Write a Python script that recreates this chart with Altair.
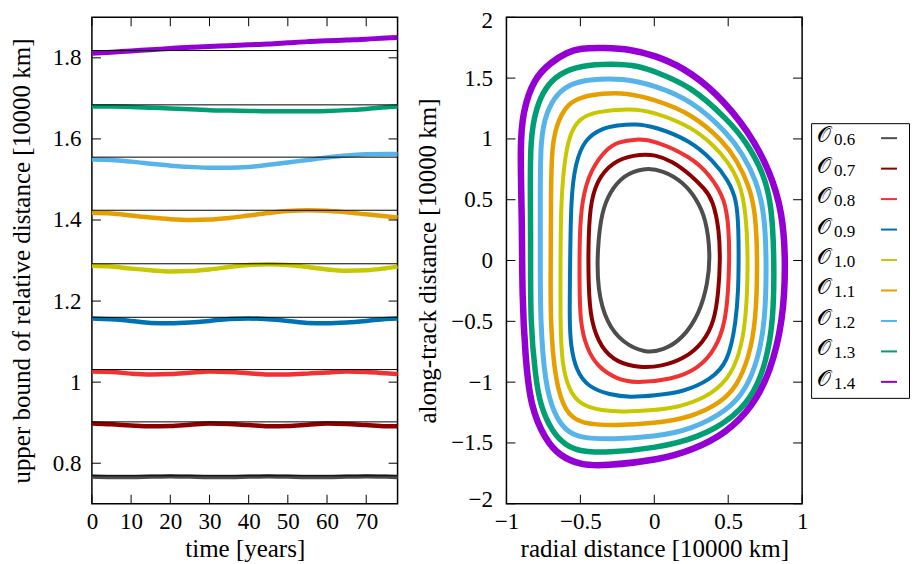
import altair as alt
import pandas as pd

# ---------------- data ----------------
series = ["0.6", "0.7", "0.8", "0.9", "1.0", "1.1", "1.2", "1.3", "1.4"]
colors = ["#4d4d4d", "#8b0000", "#f03232", "#0072b2", "#c8c800",
          "#e69f00", "#56b4e9", "#009e73", "#9400d3"]

time_years = [0, 5, 10, 15, 20, 25, 30, 35, 40, 45, 50, 55, 60, 65, 70, 75, 78]
bound_06 = [0.767, 0.766, 0.766, 0.767, 0.768, 0.767, 0.766, 0.766, 0.767,
            0.768, 0.767, 0.766, 0.766, 0.767, 0.768, 0.767, 0.766]
bound_07 = [0.898, 0.896, 0.893, 0.891, 0.892, 0.895, 0.898, 0.897, 0.894,
            0.891, 0.892, 0.895, 0.898, 0.897, 0.894, 0.891, 0.891]
bound_08 = [1.026, 1.025, 1.021, 1.019, 1.020, 1.023, 1.026, 1.025, 1.022,
            1.019, 1.019, 1.021, 1.024, 1.026, 1.025, 1.022, 1.020]
bound_09 = [1.157, 1.155, 1.151, 1.146, 1.145, 1.147, 1.151, 1.156, 1.157,
            1.155, 1.151, 1.146, 1.145, 1.147, 1.151, 1.156, 1.157]
bound_10 = [1.287, 1.285, 1.280, 1.276, 1.273, 1.274, 1.278, 1.284, 1.289,
            1.291, 1.289, 1.284, 1.278, 1.275, 1.276, 1.281, 1.285]
bound_11 = [1.418, 1.416, 1.411, 1.406, 1.402, 1.400, 1.401, 1.405, 1.411,
            1.417, 1.422, 1.424, 1.423, 1.419, 1.414, 1.409, 1.406]
bound_12 = [1.549, 1.548, 1.544, 1.539, 1.534, 1.531, 1.529, 1.529, 1.531,
            1.536, 1.542, 1.548, 1.554, 1.559, 1.562, 1.563, 1.563]
bound_13 = [1.680, 1.680, 1.679, 1.677, 1.675, 1.673, 1.671, 1.670, 1.669,
            1.668, 1.668, 1.668, 1.669, 1.671, 1.674, 1.678, 1.680]
bound_14 = [1.811, 1.814, 1.817, 1.820, 1.823, 1.826, 1.828, 1.830, 1.832,
            1.834, 1.837, 1.840, 1.842, 1.844, 1.846, 1.849, 1.850]
ref_lines = [0.769, 0.902, 1.031, 1.160, 1.292, 1.424, 1.555, 1.684, 1.818]

# closed orbits (radial, along-track), clockwise from the top
rad_06 = [-0.075, 0.06, 0.194, 0.284, 0.35, 0.38, 0.362, 0.306, 0.194, 0.06,
          -0.064, -0.21, -0.322, -0.385, -0.385, -0.356, -0.30, -0.21]
alg_06 = [0.763, 0.742, 0.646, 0.51, 0.345, 0.05, -0.189, -0.435, -0.64, -0.74,
          -0.76, -0.68, -0.517, -0.24, 0.1, 0.40, 0.564, 0.70]
rad_07 = [-0.086, 0.0, 0.12, 0.25, 0.34, 0.396, 0.44, 0.446, 0.435, 0.407, 0.33,
          0.2, 0.05, -0.098, -0.25, -0.36, -0.43, -0.446, -0.446, -0.43, -0.37, -0.25]
alg_07 = [0.875, 0.87, 0.82, 0.70, 0.59, 0.5, 0.25, 0.0, -0.25, -0.5, -0.68,
          -0.81, -0.87, -0.882, -0.84, -0.72, -0.5, -0.2, 0.2, 0.5, 0.70, 0.837]
rad_08 = [-0.12, 0.0, 0.25, 0.38, 0.481, 0.505, 0.508, 0.50, 0.481, 0.42, 0.30,
          0.12, -0.14, -0.25, -0.38, -0.46, -0.502, -0.506, -0.506, -0.49, -0.43,
          -0.32, -0.25]
alg_08 = [1.0, 0.988, 0.851, 0.70, 0.5, 0.25, 0.0, -0.25, -0.5, -0.72, -0.89,
          -0.98, -1.008, -0.975, -0.88, -0.72, -0.5, -0.2, 0.2, 0.5, 0.75,
          0.92, 0.975]
rad_09 = [-0.131, 0.0, 0.239, 0.40, 0.5, 0.558, 0.57, 0.571, 0.568, 0.553, 0.50,
          0.38, 0.2, 0.0, -0.165, -0.3, -0.45, -0.53, -0.565, -0.574, -0.569,
          -0.564, -0.535, -0.47, -0.35, -0.25]
alg_09 = [1.125, 1.103, 0.99, 0.82, 0.66, 0.5, 0.25, 0.0, -0.25, -0.5, -0.84,
          -0.98, -1.08, -1.11, -1.125, -1.105, -1.04, -0.9, -0.7, -0.5, 0.0,
          0.5, 0.8, 1.0, 1.09, 1.112]
rad_10 = [-0.16, 0.0, 0.25, 0.4, 0.5, 0.58, 0.62, 0.636, 0.621, 0.575, 0.5, 0.35,
          0.15, 0.0, -0.21, -0.35, -0.5, -0.58, -0.625, -0.636, -0.634, -0.632,
          -0.60, -0.56, -0.5, -0.4]
alg_10 = [1.25, 1.221, 1.10, 0.95, 0.81, 0.64, 0.40, 0.0, -0.5, -0.78, -0.98,
          -1.13, -1.21, -1.23, -1.245, -1.236, -1.19, -1.06, -0.85, -0.5, 0.0,
          0.5, 0.9, 1.07, 1.17, 1.225]
rad_11 = [-0.19, 0.0, 0.25, 0.468, 0.56, 0.64, 0.685, 0.699, 0.688, 0.64, 0.56,
          0.45, 0.25, 0.0, -0.26, -0.5, -0.60, -0.67, -0.704, -0.70, -0.699,
          -0.695, -0.65, -0.58, -0.5, -0.35]
alg_11 = [1.38, 1.325, 1.21, 0.98, 0.82, 0.62, 0.40, 0.0, -0.5, -0.80, -1.03,
          -1.17, -1.29, -1.34, -1.358, -1.345, -1.25, -1.0, -0.5, 0.0, 0.5,
          0.95, 1.16, 1.29, 1.344, 1.375]
rad_12 = [-0.21, 0.0, 0.25, 0.5, 0.60, 0.69, 0.745, 0.76, 0.751, 0.70, 0.62, 0.5,
          0.25, 0.0, -0.28, -0.5, -0.60, -0.68, -0.74, -0.771, -0.771, -0.771,
          -0.771, -0.73, -0.66, -0.57, -0.45]
alg_12 = [1.50, 1.44, 1.32, 1.043, 0.87, 0.66, 0.40, 0.0, -0.5, -0.82, -1.06,
          -1.23, -1.39, -1.45, -1.47, -1.461, -1.40, -1.26, -1.0, -0.5, 0.0,
          0.5, 1.0, 1.22, 1.37, 1.45, 1.49]
rad_13 = [-0.28, -0.1, 0.0, 0.25, 0.5, 0.62, 0.74, 0.795, 0.812, 0.806, 0.755,
          0.68, 0.55, 0.3, 0.0, -0.32, -0.5, -0.60, -0.69, -0.77, -0.805,
          -0.838, -0.836, -0.838, -0.84, -0.80, -0.74, -0.64, -0.5]
alg_13 = [1.62, 1.60, 1.555, 1.434, 1.153, 0.98, 0.72, 0.45, 0.0, -0.5, -0.84,
          -1.08, -1.28, -1.46, -1.545, -1.58, -1.571, -1.52, -1.41, -1.2, -0.95,
          -0.5, 0.0, 0.5, 1.0, 1.25, 1.42, 1.54, 1.604]
rad_14 = [-0.345, -0.15, 0.0, 0.194, 0.419, 0.643, 0.785, 0.866, 0.89, 0.872,
          0.782, 0.665, 0.486, 0.261, 0.037, -0.345, -0.5, -0.636, -0.737,
          -0.838, -0.872, -0.894, -0.894, -0.908, -0.89, -0.816, -0.70, -0.59, -0.5]
alg_14 = [1.75, 1.735, 1.686, 1.59, 1.385, 1.057, 0.728, 0.40, 0.0, -0.5, -0.928,
          -1.2, -1.42, -1.557, -1.64, -1.69, -1.68, -1.61, -1.475, -1.2, -0.79,
          -0.3, 0.3, 0.947, 1.221, 1.494, 1.63, 1.713, 1.746]

time_ticks = [0, 10, 20, 30, 40, 50, 60, 70]
bound_ticks = [0.8, 1.0, 1.2, 1.4, 1.6, 1.8]
radial_ticks = [-1, -0.5, 0, 0.5, 1]
along_ticks = [-2, -1.5, -1, -0.5, 0, 0.5, 1, 1.5, 2]

legend_main = "\U0001D4AA"

# ---------------- styles ----------------
FONT = "Liberation Serif"
LW, LH = 306, 487
RW, RH = 296, 487
TICK = 9
left_widths = [4.5, 4.5, 4.5, 4.5, 4.5, 4.5, 4.5, 4.5, 5]
right_widths = [4, 4, 4, 4, 4, 4.5, 5, 5.5, 6.5]

bounds = [bound_06, bound_07, bound_08, bound_09, bound_10,
          bound_11, bound_12, bound_13, bound_14]
rads = [rad_06, rad_07, rad_08, rad_09, rad_10, rad_11, rad_12, rad_13, rad_14]
algs = [alg_06, alg_07, alg_08, alg_09, alg_10, alg_11, alg_12, alg_13, alg_14]

left_df = pd.DataFrame(
    [{"time": t, "value": v, "series": s}
     for s, vals in zip(series, bounds) for t, v in zip(time_years, vals)]
)
orbit_df = pd.DataFrame(
    [{"radial": x, "along": y, "series": s, "idx": i}
     for s, xs, ys in zip(series, rads, algs)
     for i, (x, y) in enumerate(zip(xs, ys))]
)

color_enc = alt.Color("series:N", scale=alt.Scale(domain=series, range=colors), legend=None)

# ---------------- left panel ----------------
x_time = alt.X("time:Q", scale=alt.Scale(domain=[0, 78], nice=False, zero=False),
               axis=alt.Axis(values=time_ticks, format="~r", labelFlush=False,
                             title="time [years]", labelPadding=7, titlePadding=3))
y_bound = alt.Y("value:Q", scale=alt.Scale(domain=[0.7, 1.9], nice=False, zero=False),
                axis=alt.Axis(values=bound_ticks, format="~r",
                              title="upper bound of relative distance [10000 km]",
                              labelPadding=11, titlePadding=18))

l_lines = [
    alt.Chart(left_df).transform_filter(alt.datum.series == s)
    .mark_line(interpolate="monotone", strokeWidth=w)
    .encode(x=x_time, y=y_bound, color=color_enc)
    for s, w in zip(series, left_widths)
]
l_refs = alt.Chart(pd.DataFrame({"value": ref_lines})).mark_rule(color="black", strokeWidth=1).encode(y=y_bound)
ytick_df = pd.DataFrame({"value": bound_ticks})
xtick_df = pd.DataFrame({"time": time_ticks})
l_t1 = alt.Chart(ytick_df).mark_rule(color="black", strokeWidth=1).encode(y=y_bound, x=alt.value(0), x2=alt.value(TICK))
l_t2 = alt.Chart(ytick_df).mark_rule(color="black", strokeWidth=1).encode(y=y_bound, x=alt.value(LW - TICK), x2=alt.value(LW))
l_t3 = alt.Chart(xtick_df).mark_rule(color="black", strokeWidth=1).encode(x=x_time, y=alt.value(0), y2=alt.value(TICK))
l_t4 = alt.Chart(xtick_df).mark_rule(color="black", strokeWidth=1).encode(x=x_time, y=alt.value(LH - TICK), y2=alt.value(LH))
left = alt.layer(*l_lines, l_refs, l_t1, l_t2, l_t3, l_t4).properties(width=LW, height=LH)

# ---------------- right panel ----------------
x_rad = alt.X("radial:Q", scale=alt.Scale(domain=[-1, 1], nice=False, zero=False),
              axis=alt.Axis(values=radial_ticks, format="~r", labelFlush=False,
                            title="radial distance [10000 km]", labelPadding=7, titlePadding=3))
y_alg = alt.Y("along:Q", scale=alt.Scale(domain=[-2, 2], nice=False, zero=False),
              axis=alt.Axis(values=along_ticks, format="~r", labelFlush=True,
                            labelFlushOffset=8,
                            title="along-track distance [10000 km]",
                            labelPadding=14, titlePadding=10))
r_lines = [
    alt.Chart(orbit_df).transform_filter(alt.datum.series == s)
    .mark_line(interpolate="basis-closed", strokeWidth=w)
    .encode(x=x_rad, y=y_alg, color=color_enc, order=alt.Order("idx:Q"))
    for s, w in zip(series, right_widths)
]
aytick_df = pd.DataFrame({"along": along_ticks})
rxtick_df = pd.DataFrame({"radial": radial_ticks})
r_t1 = alt.Chart(aytick_df).mark_rule(color="black", strokeWidth=1).encode(y=y_alg, x=alt.value(0), x2=alt.value(TICK))
r_t2 = alt.Chart(aytick_df).mark_rule(color="black", strokeWidth=1).encode(y=y_alg, x=alt.value(RW - TICK), x2=alt.value(RW))
r_t3 = alt.Chart(rxtick_df).mark_rule(color="black", strokeWidth=1).encode(x=x_rad, y=alt.value(0), y2=alt.value(TICK))
r_t4 = alt.Chart(rxtick_df).mark_rule(color="black", strokeWidth=1).encode(x=x_rad, y=alt.value(RH - TICK), y2=alt.value(RH))
right = alt.layer(*r_lines, r_t1, r_t2, r_t3, r_t4).properties(width=RW, height=RH)

# ---------------- legend ----------------
legend_df = pd.DataFrame({"series": series, "row": list(range(len(series))),
                          "main": [legend_main] * len(series), "sub": series})
y_row = alt.Y("row:Q", scale=alt.Scale(domain=[-0.492, 8.525], nice=False, zero=False, reverse=True), axis=None)
lg_sym = alt.Chart(legend_df).mark_rule(strokeWidth=2).encode(
    y=y_row, x=alt.value(70), x2=alt.value(86), color=color_enc)
lg_main = alt.Chart(legend_df).mark_text(align="left", baseline="middle", font=FONT,
                                         fontSize=22, dy=-3, color="black").encode(
    y=y_row, x=alt.value(6), text="main:N")
lg_sub = alt.Chart(legend_df).mark_text(align="left", baseline="alphabetic", font=FONT,
                                        fontSize=17, dy=7, color="black").encode(
    y=y_row, x=alt.value(23), text="sub:N")
legend = alt.layer(lg_sym, lg_main, lg_sub).properties(
    width=98, height=275, view=alt.ViewBackground(stroke="black", strokeWidth=1))

spacer = alt.Chart(pd.DataFrame({"row": [0]})).mark_point(opacity=0).encode(
    y=alt.Y("row:Q", axis=None)).properties(
    width=98, height=1, view=alt.ViewBackground(stroke="transparent"))

legend_col = alt.vconcat(spacer, legend, spacing=105, bounds="flush")

chart = alt.hconcat(
    left,
    alt.hconcat(right, legend_col, spacing=9, bounds="flush"),
    spacing=109, bounds="flush",
).properties(padding=0, background="white").configure_view(
    stroke="black", strokeWidth=1.5
).configure_axis(
    labelFont=FONT, titleFont=FONT, labelFontSize=23, titleFontSize=25,
    titleFontWeight="normal", labelColor="black", titleColor="black",
    grid=False, ticks=False, domain=False,
)

chart.save("out.html", embed_options={"renderer": "svg", "actions": False})
